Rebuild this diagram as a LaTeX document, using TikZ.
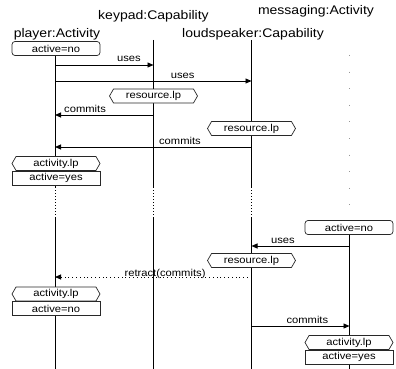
\documentclass[tikz,border=0pt]{standalone}
\usepackage{fontspec}
\setmainfont{Liberation Sans}[FakeStretch=1.12]
\usetikzlibrary{positioning,arrows.meta,shapes.symbols}
\definecolor{ink}{RGB}{0,0,0}
\definecolor{frame}{RGB}{40,40,40}
\definecolor{sparse}{RGB}{150,150,150}
\tikzset{
  head/.style={font=\fontsize{12.5}{14}\selectfont, text=ink, inner sep=0pt, anchor=base},
  state/.style={draw=frame, fill=white, rounded corners=3pt, minimum width=88pt,
    minimum height=14pt, inner sep=0pt, font=\fontsize{10}{11}\selectfont, line width=0.7pt},
  fact/.style={state, rounded corners=0pt},
  res/.style={draw=frame, fill=white, signal, signal to=west and east, signal pointer angle=120,
    minimum width=88pt, minimum height=14pt, inner sep=0pt, font=\fontsize{10}{11}\selectfont,
    line width=0.7pt},
  life/.style={line width=0.9pt, draw=ink},
  gap/.style={line width=0.7pt, draw=ink, dash pattern=on 0.8pt off 2.2pt},
  faint/.style={line width=0.6pt, draw=sparse, dash pattern=on 0.6pt off 16pt},
  msg/.style={-{Triangle[length=6pt,width=5pt]}, line width=0.9pt, draw=ink},
  undo/.style={msg, dash pattern=on 0.8pt off 3pt},
  lbl/.style={font=\fontsize{10}{11}\selectfont, inner sep=0pt, anchor=base, yshift=3pt},
}

\begin{document}
\begin{tikzpicture}[x=1pt,y=-1pt]
  \useasboundingbox (0,0) rectangle (396,369);
  % headers
  \node[head] (kpH) at (153.5,19.5) {keypad:Capability};
  \node[head] (msH) at (316,15) {messaging:Activity};
  \node[head] (plH) at (57,37.5) {player:Activity};
  \node[head] (lsH) at (253,37.5) {loudspeaker:Capability};
  % lifelines
  \foreach \x/\t in {55/55, 153.5/40, 251.5/40}{
    \draw[life] (\x,\t) -- (\x,187);
    \draw[gap] (\x,187) -- (\x,218);
    \draw[life] (\x,218) -- (\x,369);
  }
  \draw[faint] (349.5,55) -- (349.5,208);
  \draw[life] (349.5,227) -- (349.5,369);
  % message ends
  \path (55,65) coordinate (pl1) (153.5,65) coordinate (kp1)
        (55,81) coordinate (pl2) (251.5,81) coordinate (ls2)
        (55,115) coordinate (pl3) (153.5,115) coordinate (kp3)
        (55,147) coordinate (pl4) (251.5,147) coordinate (ls4)
        (251.5,246) coordinate (ls5) (349.5,246) coordinate (ms5)
        (55,277) coordinate (pl6) (251.5,277) coordinate (ls6)
        (251.5,326) coordinate (ls7) (349.5,326) coordinate (ms7);
  % states and facts
  \node[state] (plA) at (56,48.5) {active=no};
  \node[res] (kpR) at (153.5,96) {resource.lp};
  \node[res] (lsR) at (251.5,128.5) {resource.lp};
  \node[res] (plL) at (56,163.5) {activity.lp};
  \node[fact, below=0pt of plL] (plF) {active=yes};
  \node[state] (msA) at (349,227.5) {active=no};
  \node[res] (lsR2) at (251.5,260.5) {resource.lp};
  \node[res] (plL2) at (56,294) {activity.lp};
  \node[fact, below=0pt of plL2] (plF2) {active=no};
  \node[res] (msL) at (349,342.5) {activity.lp};
  \node[fact, below=0pt of msL] (msF) {active=yes};
  % messages
  \draw[msg] (pl1) -- node[lbl, pos=.75] {uses} (kp1);
  \draw[msg] (pl2) -- node[lbl, pos=.65] {uses} (ls2);
  \draw[msg] (kp3) -- node[lbl, pos=.695] {commits} (pl3);
  \draw[msg] (ls4) -- node[lbl, pos=.364] {commits} (pl4);
  \draw[msg] (ms5) -- node[lbl, pos=.68] {uses} (ls5);
  \draw[undo] (ls6) -- node[lbl, pos=.44, yshift=-2pt] {retract(commits)} (pl6);
  \draw[msg] (ls7) -- node[lbl, pos=.57] {commits} (ms7);
\end{tikzpicture}
\end{document}
